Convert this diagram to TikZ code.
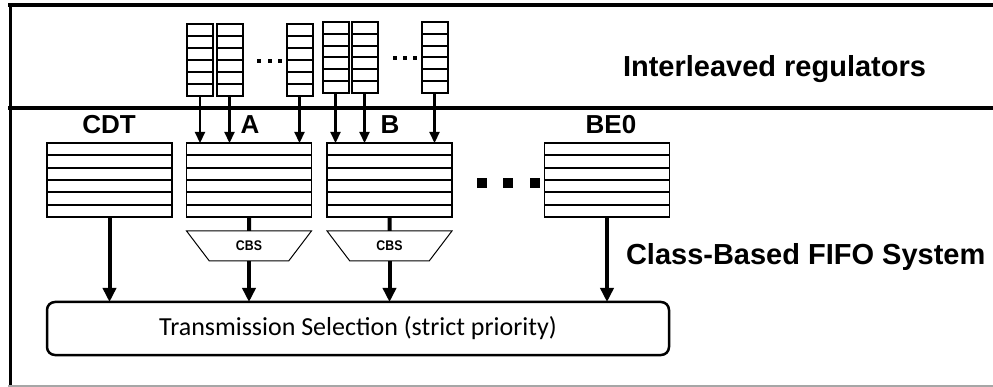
\documentclass[tikz,border=0pt]{standalone}
\usepackage{fontspec}
\setmainfont{Liberation Sans}
\newfontfamily\calib{Carlito}
\usetikzlibrary{arrows.meta,shapes.geometric,calc}

\begin{document}
\begin{tikzpicture}[x=1pt,y=-1pt,
  every node/.style={inner sep=0pt, outer sep=0pt},
  % a FIFO drawn as a box split into six slots
  sixrows/.style={draw, line width=#1,
    path picture={
      \foreach \k in {1,...,5}
        \draw[line width=#1]
          ($(path picture bounding box.north west)!\k/6!(path picture bounding box.south west)$) --
          ($(path picture bounding box.north east)!\k/6!(path picture bounding box.south east)$);
    }},
  regq/.style={sixrows=2pt, minimum width=26pt, minimum height=72pt},
  classq/.style={sixrows=1.9pt, minimum width=125pt, minimum height=74pt},
  shaper/.style={trapezium, draw, line width=1pt, shape border rotate=180,
    trapezium stretches=true, trapezium angle=53, minimum width=125pt, minimum height=30pt,
    font=\bfseries\fontsize{14}{14}\selectfont},
  classlbl/.style={font=\bfseries\fontsize{26}{26}\selectfont},
  sidelbl/.style={anchor=base west, font=\bfseries\fontsize{29}{29}\selectfont},
  feed/.style={line width=2.2pt, -{Triangle[width=10pt,length=11pt]}},
  fat/.style={line width=4pt, -{Triangle[width=13pt,length=14pt]}},
  stub/.style={line width=4pt},
  bigdot/.style={fill=black, minimum size=10pt},
  smalldot/.style={fill=black, minimum size=4pt},
]
\useasboundingbox (0,0) rectangle (993,387);

% frame and separator between the two stages
\draw[line width=4pt] (8,5) -- (993,5);
\draw[line width=3pt] (10,3.5) -- (10,386);
\draw[line width=4pt] (8,108) -- (993,108);
\draw[line width=1.5pt, gray!70] (8,386) -- (993,386);

% interleaved regulator queues
\node[regq] (r1) at (200,60) {};
\node[regq] (r2) at (229.5,60) {};
\node[regq] (r3) at (299.5,60) {};
\node[regq, minimum height=71pt] (r4) at (335.5,57.5) {};
\node[regq, minimum height=71pt] (r5) at (364.5,57.5) {};
\node[regq, minimum height=71pt] (r6) at (434.5,57.5) {};
\foreach \x [count=\i] in {259,269.5,280} \node[smalldot] (da\i) at (\x,61) {};
\foreach \x [count=\i] in {395,405,415} \node[smalldot] (db\i) at (\x,58) {};

% class-based FIFO queues
\node[classq] (cdt) at (109.5,180) {};
\node[classq] (qa) at (249,180) {};
\node[classq] (qb) at (389.5,180) {};
\node[classq] (be0) at (607,180) {};
\foreach \x [count=\i] in {482,508,535} \node[bigdot] (dd\i) at (\x,183) {};

\node[classlbl] (lcdt) at (109,125) {CDT};
\node[classlbl] (la) at (250,125) {A};
\node[classlbl] (lb) at (390,125) {B};
\node[classlbl] (lbe0) at (611,125) {BE0};

% credit-based shapers
\node[shaper] (cbsa) at (249,246) {\scalebox{0.88}[1]{CBS}};
\node[shaper] (cbsb) at (389.5,246) {\scalebox{0.88}[1]{CBS}};

% transmission selection
\node[draw, line width=2.5pt, rounded corners=8pt, minimum width=622pt, minimum height=53pt,
  font=\calib\fontsize{26}{26}\selectfont] (ts) at (358,328.5) {Transmission Selection (strict priority)};

% side labels
\node[sidelbl] (lir) at (623,77) {Interleaved regulators};
\node[sidelbl] (lcb) at (626,265) {Class-Based FIFO System};

% regulators feed their class queues
\foreach \r in {r1,r2,r3} \draw[feed] (\r.south) -- (\r.south |- qa.north);
\foreach \r in {r4,r5,r6} \draw[feed] (\r.south) -- (\r.south |- qb.north);

% queues to shapers and to transmission selection
\draw[stub] (qa.south) -- (cbsa.north);
\draw[stub] (qb.south) -- (cbsb.north);
\draw[fat] (cdt.south) -- (cdt.south |- ts.north);
\draw[fat] (cbsa.south) -- (cbsa.south |- ts.north);
\draw[fat] (cbsb.south) -- (cbsb.south |- ts.north);
\draw[fat] (be0.south) -- (be0.south |- ts.north);
\end{tikzpicture}
\end{document}
